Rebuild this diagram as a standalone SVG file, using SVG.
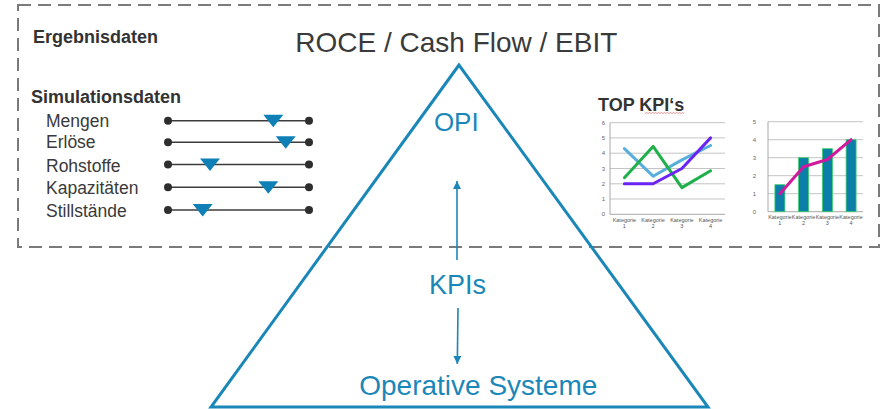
<svg xmlns="http://www.w3.org/2000/svg" width="887" height="409" viewBox="0 0 887 409">
<style>
.t{font-family:"Liberation Sans",Arial,sans-serif;fill:#3a3a3a}
.b{font-weight:bold;font-size:18px;fill:#333}
.lbl{font-size:17.5px}
.blue{font-family:"Liberation Sans",Arial,sans-serif;fill:#1b87b9}
.sl{stroke:#3c3c3c;stroke-width:1.6}
.dot{fill:#2e2e2e}
.knob{fill:#0e80b6}
.grid{stroke:#c4c4c4;stroke-width:1}
.ax{stroke:#a8a8a8;stroke-width:1}
.yl{font-family:"Liberation Sans",Arial,sans-serif;font-size:6px;fill:#666;text-anchor:end}
.xl{font-family:"Liberation Sans",Arial,sans-serif;font-size:5.5px;fill:#555;text-anchor:middle}
.ser{fill:none;stroke-width:3;stroke-linejoin:round;stroke-linecap:round}
</style>
<defs>
<marker id="ah" viewBox="0 0 10 10" refX="10" refY="5" markerWidth="9" markerHeight="8" markerUnits="userSpaceOnUse" orient="auto">
<path d="M0,0 L10,5 L0,10 z" fill="#1b87b9"/>
</marker>
</defs>
<rect width="887" height="409" fill="#fff"/>

<g id="frame">
<rect x="18" y="5" width="861" height="242" fill="none" stroke="#7a7a7a" stroke-width="2" stroke-dasharray="13 7"/>
</g>

<g id="title">
<text class="t" x="456.3" y="52" font-size="28" text-anchor="middle" fill="#404040">ROCE / Cash Flow / EBIT</text>
</g>

<g id="ergebnisdaten">
<text class="t b" x="33" y="43">Ergebnisdaten</text>
</g>

<g id="simulationsdaten">
<text class="t b" x="31" y="103">Simulationsdaten</text>
<text class="t lbl" x="46" y="126.7">Mengen</text>
<text class="t lbl" x="46" y="148.3">Erlöse</text>
<text class="t lbl" x="46" y="171.7">Rohstoffe</text>
<text class="t lbl" x="46" y="194.3">Kapazitäten</text>
<text class="t lbl" x="46" y="217.3">Stillstände</text>
<g id="sliders">
<line class="sl" x1="168" y1="120.7" x2="309" y2="120.7"/>
<line class="sl" x1="168" y1="142.2" x2="309" y2="142.2"/>
<line class="sl" x1="168" y1="164.5" x2="309" y2="164.5"/>
<line class="sl" x1="168" y1="187.3" x2="309" y2="187.3"/>
<line class="sl" x1="168" y1="210" x2="309" y2="210"/>
<circle class="dot" cx="168" cy="120.7" r="4"/><circle class="dot" cx="309" cy="120.7" r="4"/>
<circle class="dot" cx="168" cy="142.2" r="4"/><circle class="dot" cx="309" cy="142.2" r="4"/>
<circle class="dot" cx="168" cy="164.5" r="4"/><circle class="dot" cx="309" cy="164.5" r="4"/>
<circle class="dot" cx="168" cy="187.3" r="4"/><circle class="dot" cx="309" cy="187.3" r="4"/>
<circle class="dot" cx="168" cy="210" r="4"/><circle class="dot" cx="309" cy="210" r="4"/>
<path class="knob" d="M263.3,114.7 L283.3,114.7 L273.3,127.2 z"/>
<path class="knob" d="M275.7,136.2 L295.7,136.2 L285.7,148.7 z"/>
<path class="knob" d="M200,158.5 L220,158.5 L210,171 z"/>
<path class="knob" d="M258.3,181.3 L278.3,181.3 L268.3,193.8 z"/>
<path class="knob" d="M192.7,204 L212.7,204 L202.7,216.5 z"/>
</g>
</g>

<g id="top-kpis">
<text class="t b" x="598" y="110.7">TOP KPI‘s</text>
<path d="M645,113.5 l1.5,-1 1.5,1 1.5,-1 1.5,1 1.5,-1 1.5,1 1.5,-1 1.5,1 1.5,-1 1.5,1 1.5,-1 1.5,1 1.5,-1 1.5,1 1.5,-1 1.5,1 1.5,-1 1.5,1 1.5,-1 1.5,1 1.5,-1 1.5,1 1.5,-1 1.5,1 1.5,-1 1.5,1" fill="none" stroke="#e06a6a" stroke-width="0.7"/>
</g>

<g id="chart-lines">
<line class="grid" x1="610" y1="122.7" x2="725" y2="122.7"/>
<line class="grid" x1="610" y1="137.9" x2="725" y2="137.9"/>
<line class="grid" x1="610" y1="153.2" x2="725" y2="153.2"/>
<line class="grid" x1="610" y1="168.5" x2="725" y2="168.5"/>
<line class="grid" x1="610" y1="183.8" x2="725" y2="183.8"/>
<line class="grid" x1="610" y1="199" x2="725" y2="199"/>
<line class="ax" x1="610" y1="214.3" x2="725" y2="214.3"/>
<line class="ax" x1="610" y1="122.7" x2="610" y2="214.3"/>
<text class="yl" x="605" y="124.8">6</text>
<text class="yl" x="605" y="140">5</text>
<text class="yl" x="605" y="155.3">4</text>
<text class="yl" x="605" y="170.6">3</text>
<text class="yl" x="605" y="185.9">2</text>
<text class="yl" x="605" y="201.1">1</text>
<text class="yl" x="605" y="216.4">0</text>
<text class="xl" x="624.4" y="221.5">Kategorie</text><text class="xl" x="624.4" y="228">1</text>
<text class="xl" x="653.1" y="221.5">Kategorie</text><text class="xl" x="653.1" y="228">2</text>
<text class="xl" x="681.9" y="221.5">Kategorie</text><text class="xl" x="681.9" y="228">3</text>
<text class="xl" x="710.6" y="221.5">Kategorie</text><text class="xl" x="710.6" y="228">4</text>
<polyline class="ser" stroke="#5aaedb" points="624.4,148.6 653.1,176.2 681.9,159.9 710.6,145.5"/>
<polyline class="ser" stroke="#1fb04a" points="624.4,177.7 653.1,146.4 681.9,187.6 710.6,170.8"/>
<polyline class="ser" stroke="#6a25f2" points="624.4,183.8 653.1,183.8 681.9,168.5 710.6,137.9"/>
</g>

<g id="chart-bars">
<line class="grid" x1="768" y1="121.7" x2="863" y2="121.7"/>
<line class="grid" x1="768" y1="139.7" x2="863" y2="139.7"/>
<line class="grid" x1="768" y1="157.7" x2="863" y2="157.7"/>
<line class="grid" x1="768" y1="175.7" x2="863" y2="175.7"/>
<line class="grid" x1="768" y1="193.7" x2="863" y2="193.7"/>
<line class="ax" x1="768" y1="211.7" x2="863" y2="211.7"/>
<line class="ax" x1="768" y1="121.7" x2="768" y2="211.7"/>
<text class="yl" x="756" y="123.8">5</text>
<text class="yl" x="756" y="141.8">4</text>
<text class="yl" x="756" y="159.8">3</text>
<text class="yl" x="756" y="177.8">2</text>
<text class="yl" x="756" y="195.8">1</text>
<text class="yl" x="756" y="213.8">0</text>
<g fill="#0b7fa8" stroke="#3fcf6a" stroke-width="0.8">
<rect x="774.9" y="184.7" width="10" height="27"/>
<rect x="798.6" y="157.7" width="10" height="54"/>
<rect x="822.4" y="148.7" width="10" height="63"/>
<rect x="846.1" y="139.7" width="10" height="72"/>
</g>
<text class="xl" x="779.9" y="218.5">Kategorie</text><text class="xl" x="779.9" y="225">1</text>
<text class="xl" x="803.6" y="218.5">Kategorie</text><text class="xl" x="803.6" y="225">2</text>
<text class="xl" x="827.4" y="218.5">Kategorie</text><text class="xl" x="827.4" y="225">3</text>
<text class="xl" x="851.1" y="218.5">Kategorie</text><text class="xl" x="851.1" y="225">4</text>
<polyline class="ser" stroke="#cf1a9e" points="779.9,193.7 803.6,166.7 827.4,159.5 851.1,139.7"/>
</g>

<g id="pyramid">
<polygon points="459,65 211,407 708,407" fill="none" stroke="#1b87b9" stroke-width="3" stroke-linejoin="miter"/>
</g>
<g id="opi"><text class="blue" x="456.3" y="131" font-size="26" text-anchor="middle">OPI</text></g>
<g id="kpis"><text class="blue" x="457.5" y="294" font-size="27" text-anchor="middle">KPIs</text></g>
<g id="operative-systeme"><text class="blue" x="478.3" y="395" font-size="28" text-anchor="middle">Operative Systeme</text></g>

<g id="connectors" stroke="#1b87b9" stroke-width="1.6" fill="none">
<line x1="457" y1="260" x2="457" y2="181" marker-end="url(#ah)"/>
<line x1="458" y1="308" x2="457.3" y2="364" marker-end="url(#ah)"/>
</g>
</svg>
